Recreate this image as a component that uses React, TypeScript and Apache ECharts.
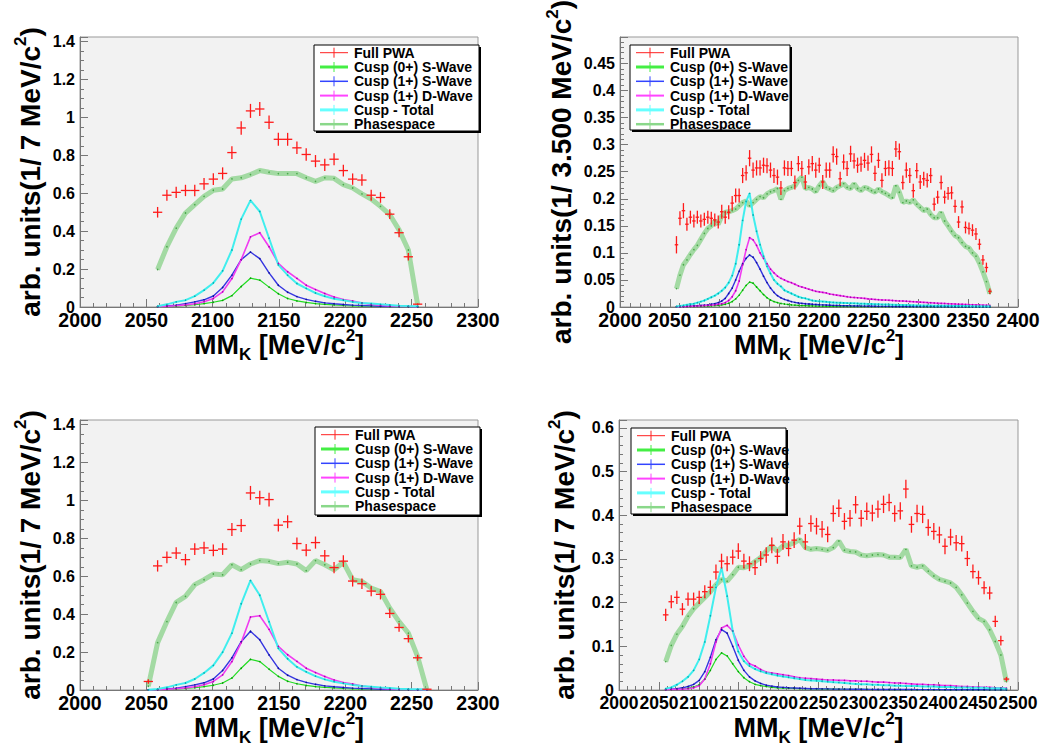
import React, { useEffect, useRef } from 'react';
import * as echarts from 'echarts';

const FONT = '"Liberation Sans", Arial, Helvetica, sans-serif';

const legendLabels = ['Full PWA', 'Cusp (0+) S-Wave', 'Cusp (1+) S-Wave', 'Cusp (1+) D-Wave', 'Cusp - Total', 'Phasespace'];
const xTitle = 'MM{sub|K} [MeV/c{sup|2}]';
const yTitle7 = 'arb. units(1/ 7 MeV/c{sup|2})';
const yTitle35 = 'arb. units(1/ 3.500 MeV/c{sup|2})';

// ---------- Panel A (top-left), 7 MeV bins ----------
const binA = { start: 2058.5, width: 7 };
const redA = [0.50, 0.59, 0.605, 0.615, 0.615, 0.65, 0.675, 0.705, 0.815, 0.945, 1.035, 1.045, 0.975, 0.885, 0.885, 0.84, 0.805, 0.77, 0.75, 0.78, 0.72, 0.675, 0.67, 0.59, 0.578, 0.49, 0.392, 0.265, 0.015];
const errA = [0.028, 0.029, 0.03, 0.03, 0.03, 0.031, 0.031, 0.032, 0.034, 0.036, 0.037, 0.037, 0.036, 0.034, 0.034, 0.033, 0.033, 0.032, 0.032, 0.032, 0.031, 0.03, 0.03, 0.029, 0.028, 0.026, 0.024, 0.02, 0.004];
const phaseA = [0.198, 0.318, 0.416, 0.496, 0.54, 0.584, 0.616, 0.623, 0.676, 0.682, 0.699, 0.72, 0.711, 0.704, 0.704, 0.704, 0.682, 0.663, 0.682, 0.679, 0.646, 0.628, 0.597, 0.57, 0.531, 0.487, 0.407, 0.301, 0.012];
const cyanA = [0.004, 0.014, 0.027, 0.036, 0.057, 0.089, 0.127, 0.191, 0.301, 0.464, 0.563, 0.504, 0.363, 0.222, 0.168, 0.124, 0.098, 0.074, 0.057, 0.044, 0.036, 0.027, 0.021, 0.018, 0.014, 0.011, 0.007, 0.005, 0.004];
const magentaA = [0.002, 0.004, 0.007, 0.011, 0.017, 0.028, 0.045, 0.08, 0.15, 0.25, 0.37, 0.392, 0.318, 0.23, 0.186, 0.151, 0.115, 0.092, 0.071, 0.053, 0.039, 0.032, 0.021, 0.014, 0.009, 0.005, 0.004, 0.003, 0.002];
const blueA = [0.002, 0.005, 0.01, 0.018, 0.027, 0.038, 0.058, 0.103, 0.168, 0.25, 0.29, 0.255, 0.18, 0.115, 0.078, 0.055, 0.04, 0.03, 0.022, 0.017, 0.013, 0.01, 0.008, 0.006, 0.004, 0.003, 0.002, 0.002, 0.001];
const greenA = [0.001, 0.003, 0.005, 0.008, 0.012, 0.018, 0.025, 0.035, 0.06, 0.108, 0.152, 0.142, 0.105, 0.07, 0.045, 0.032, 0.024, 0.018, 0.014, 0.011, 0.008, 0.006, 0.005, 0.004, 0.003, 0.002, 0.002, 0.001, 0.001];

// ---------- Panel B (top-right), 3.5 MeV bins ----------
const binB = { start: 2056.75, width: 3.5 };
const redB = [0.115, 0.164, 0.178, 0.153, 0.166, 0.159, 0.166, 0.159, 0.162, 0.166,
  0.164, 0.161, 0.157, 0.176, 0.166, 0.175, 0.192, 0.206, 0.206, 0.243,
  0.248, 0.275, 0.253, 0.257, 0.257, 0.262, 0.261, 0.253, 0.243, 0.24,
  0.22, 0.257, 0.256, 0.256, 0.23, 0.265, 0.256, 0.231, 0.259, 0.265,
  0.253, 0.262, 0.231, 0.253, 0.253, 0.282, 0.278, 0.237, 0.268, 0.256,
  0.283, 0.27, 0.262, 0.264, 0.271, 0.266, 0.282, 0.247, 0.271, 0.234,
  0.256, 0.257, 0.256, 0.292, 0.287, 0.23, 0.253, 0.243, 0.215, 0.252,
  0.231, 0.237, 0.234, 0.243, 0.19, 0.203, 0.23, 0.203, 0.21, 0.211,
  0.186, 0.157, 0.185, 0.147, 0.145, 0.142, 0.135, 0.116, 0.087, 0.073, 0.029];
const errB = [0.016, 0.013, 0.014, 0.012, 0.012, 0.012, 0.012, 0.012, 0.012, 0.012,
  0.012, 0.012, 0.012, 0.013, 0.012, 0.013, 0.013, 0.013, 0.013, 0.014,
  0.014, 0.015, 0.014, 0.014, 0.014, 0.014, 0.014, 0.014, 0.014, 0.014,
  0.013, 0.014, 0.014, 0.014, 0.013, 0.014, 0.014, 0.013, 0.014, 0.014,
  0.014, 0.014, 0.013, 0.014, 0.014, 0.015, 0.015, 0.013, 0.014, 0.014,
  0.015, 0.014, 0.014, 0.014, 0.014, 0.014, 0.015, 0.014, 0.014, 0.013,
  0.014, 0.014, 0.014, 0.015, 0.015, 0.013, 0.014, 0.014, 0.013, 0.014,
  0.013, 0.013, 0.013, 0.014, 0.012, 0.012, 0.013, 0.012, 0.012, 0.012,
  0.012, 0.011, 0.012, 0.011, 0.011, 0.011, 0.011, 0.01, 0.009, 0.009, 0.005];
const phaseB = [0.034, 0.059, 0.078, 0.087, 0.097, 0.106, 0.114, 0.125, 0.136, 0.145,
  0.15, 0.159, 0.153, 0.168, 0.175, 0.176, 0.178, 0.181, 0.187, 0.193,
  0.196, 0.187, 0.193, 0.199, 0.204, 0.202, 0.209, 0.213, 0.215, 0.219,
  0.199, 0.215, 0.219, 0.221, 0.224, 0.234, 0.24, 0.219, 0.221, 0.218,
  0.213, 0.224, 0.232, 0.221, 0.218, 0.215, 0.221, 0.224, 0.228, 0.221,
  0.219, 0.228, 0.219, 0.215, 0.221, 0.219, 0.215, 0.212, 0.218, 0.213,
  0.21, 0.206, 0.202, 0.224, 0.212, 0.193, 0.196, 0.193, 0.198, 0.19,
  0.184, 0.178, 0.181, 0.171, 0.165, 0.165, 0.175, 0.159, 0.15, 0.14,
  0.132, 0.128, 0.119, 0.112, 0.109, 0.1, 0.094, 0.081, 0.065, 0.047, 0.025];
const cyanB = [0.001, 0.002, 0.003, 0.004, 0.005, 0.006, 0.008, 0.01, 0.012, 0.015,
  0.018, 0.021, 0.025, 0.03, 0.036, 0.045, 0.058, 0.08, 0.115, 0.16,
  0.195, 0.21, 0.17, 0.14, 0.115, 0.094, 0.075, 0.062, 0.05, 0.043,
  0.038, 0.031, 0.028, 0.025, 0.022, 0.019, 0.017, 0.016, 0.014, 0.012,
  0.011, 0.0105, 0.01, 0.0095, 0.009, 0.0085, 0.008, 0.0078, 0.0075, 0.0072,
  0.007, 0.0068, 0.0065, 0.0062, 0.006, 0.0057, 0.0055, 0.0052, 0.005, 0.0048,
  0.0046, 0.0044, 0.0042, 0.004, 0.0038, 0.0036, 0.0035, 0.0033, 0.0032, 0.003,
  0.0029, 0.0028, 0.0027, 0.0026, 0.0025, 0.0024, 0.0023, 0.0022, 0.0021, 0.002,
  0.002, 0.0019, 0.0018, 0.0018, 0.0017, 0.0016, 0.0016, 0.0015, 0.0014, 0.0014, 0.0013];
const magentaB = [0.0003, 0.0005, 0.0007, 0.001, 0.0012, 0.0015, 0.0018, 0.002, 0.0025, 0.003,
  0.0035, 0.004, 0.005, 0.006, 0.008, 0.012, 0.019, 0.03, 0.048, 0.078,
  0.106, 0.128, 0.124, 0.114, 0.1, 0.09, 0.08, 0.07, 0.063, 0.057,
  0.053, 0.05, 0.047, 0.045, 0.042, 0.039, 0.037, 0.035, 0.033, 0.031,
  0.029, 0.028, 0.027, 0.026, 0.024, 0.023, 0.022, 0.021, 0.02, 0.019,
  0.018, 0.0175, 0.017, 0.0165, 0.016, 0.015, 0.0145, 0.014, 0.0135, 0.013,
  0.0128, 0.0124, 0.012, 0.0116, 0.0112, 0.011, 0.0106, 0.0102, 0.0098, 0.0094,
  0.009, 0.0086, 0.0082, 0.0078, 0.0074, 0.007, 0.0067, 0.0064, 0.0061, 0.0058,
  0.0055, 0.0052, 0.005, 0.0047, 0.0044, 0.0042, 0.004, 0.0037, 0.0035, 0.0032, 0.003];
const blueB = [0.0005, 0.0008, 0.001, 0.0013, 0.0016, 0.002, 0.0025, 0.003, 0.0035, 0.004,
  0.005, 0.006, 0.008, 0.011, 0.016, 0.025, 0.035, 0.05, 0.066, 0.08,
  0.09, 0.096, 0.092, 0.082, 0.07, 0.057, 0.045, 0.035, 0.027, 0.021,
  0.017, 0.014, 0.012, 0.01, 0.0085, 0.0075, 0.0068, 0.006, 0.0055, 0.005,
  0.0046, 0.0042, 0.0039, 0.0036, 0.0033, 0.003, 0.0028, 0.0026, 0.0024, 0.0022,
  0.002, 0.0019, 0.0018, 0.0017, 0.0016, 0.0015, 0.0014, 0.0013, 0.0012, 0.0012,
  0.0011, 0.0011, 0.001, 0.001, 0.001, 0.0009, 0.0009, 0.0009, 0.0008, 0.0008,
  0.0008, 0.0007, 0.0007, 0.0007, 0.0006, 0.0006, 0.0006, 0.0006, 0.0005, 0.0005,
  0.0005, 0.0005, 0.0004, 0.0004, 0.0004, 0.0004, 0.0004, 0.0003, 0.0003, 0.0003, 0.0003];
const greenB = [0.0003, 0.0004, 0.0005, 0.0006, 0.0008, 0.001, 0.0012, 0.0014, 0.0016, 0.0019,
  0.0022, 0.0026, 0.003, 0.004, 0.005, 0.007, 0.01, 0.015, 0.022, 0.031,
  0.04, 0.046, 0.044, 0.037, 0.03, 0.023, 0.017, 0.013, 0.01, 0.008,
  0.0065, 0.0055, 0.0047, 0.004, 0.0035, 0.003, 0.0027, 0.0024, 0.0021, 0.0019,
  0.0017, 0.0015, 0.0014, 0.0013, 0.0012, 0.0011, 0.001, 0.001, 0.0009, 0.0009,
  0.0008, 0.0008, 0.0008, 0.0008, 0.0008, 0.0007, 0.0007, 0.0007, 0.0007, 0.0007,
  0.0006, 0.0006, 0.0006, 0.0006, 0.0006, 0.0005, 0.0005, 0.0005, 0.0005, 0.0005,
  0.0005, 0.0004, 0.0004, 0.0004, 0.0004, 0.0004, 0.0004, 0.0003, 0.0003, 0.0003,
  0.0003, 0.0003, 0.0003, 0.0003, 0.0002, 0.0002, 0.0002, 0.0002, 0.0002, 0.0002, 0.0002];

// ---------- Panel C (bottom-left), 7 MeV bins ----------
const binC = { start: 2051.5, width: 7 };
const redC = [0.045, 0.655, 0.70, 0.723, 0.688, 0.744, 0.75, 0.737, 0.744, 0.847, 0.868, 1.04, 1.015, 1.005, 0.87, 0.888, 0.773, 0.738, 0.778, 0.708, 0.646, 0.68, 0.575, 0.561, 0.522, 0.505, 0.404, 0.33, 0.271, 0.17, 0.004];
const errC = [0.012, 0.03, 0.031, 0.031, 0.03, 0.031, 0.032, 0.031, 0.031, 0.034, 0.034, 0.037, 0.037, 0.036, 0.034, 0.034, 0.032, 0.032, 0.032, 0.031, 0.03, 0.031, 0.029, 0.028, 0.027, 0.027, 0.024, 0.022, 0.02, 0.016, 0.003];
const phaseC = [0.02, 0.25, 0.361, 0.462, 0.494, 0.556, 0.582, 0.612, 0.608, 0.661, 0.635, 0.665, 0.683, 0.679, 0.667, 0.674, 0.665, 0.63, 0.683, 0.661, 0.635, 0.674, 0.582, 0.573, 0.538, 0.52, 0.432, 0.361, 0.3, 0.176, 0.0];
const cyanC = [0.001, 0.005, 0.014, 0.027, 0.037, 0.058, 0.09, 0.13, 0.2, 0.3, 0.455, 0.578, 0.5, 0.36, 0.22, 0.165, 0.122, 0.096, 0.073, 0.056, 0.044, 0.035, 0.027, 0.021, 0.017, 0.013, 0.01, 0.007, 0.005, 0.004, 0.003];
const magentaC = [0.001, 0.002, 0.004, 0.007, 0.011, 0.017, 0.028, 0.045, 0.08, 0.15, 0.25, 0.385, 0.392, 0.32, 0.23, 0.186, 0.151, 0.115, 0.092, 0.071, 0.053, 0.039, 0.032, 0.021, 0.014, 0.009, 0.005, 0.004, 0.003, 0.002, 0.001];
const blueC = [0.001, 0.002, 0.005, 0.01, 0.018, 0.027, 0.038, 0.058, 0.103, 0.17, 0.255, 0.31, 0.265, 0.185, 0.115, 0.078, 0.055, 0.04, 0.03, 0.022, 0.017, 0.013, 0.01, 0.008, 0.006, 0.004, 0.003, 0.002, 0.002, 0.001, 0.001];
const greenC = [0.0005, 0.001, 0.003, 0.005, 0.008, 0.012, 0.018, 0.025, 0.037, 0.063, 0.115, 0.162, 0.15, 0.11, 0.072, 0.046, 0.033, 0.024, 0.018, 0.014, 0.011, 0.008, 0.006, 0.005, 0.004, 0.003, 0.002, 0.002, 0.001, 0.001, 0.001];

// ---------- Panel D (bottom-right), 7 MeV bins ----------
const binD = { start: 2058.5, width: 7 };
const redD = [0.172, 0.202, 0.212, 0.185, 0.208, 0.208, 0.212, 0.225, 0.235, 0.27,
  0.295, 0.289, 0.304, 0.318, 0.295, 0.289, 0.28, 0.301, 0.309, 0.331,
  0.306, 0.339, 0.324, 0.343, 0.375, 0.339, 0.381, 0.375, 0.368, 0.356,
  0.404, 0.416, 0.386, 0.393, 0.424, 0.393, 0.409, 0.405, 0.414, 0.425,
  0.429, 0.404, 0.41, 0.46, 0.379, 0.404, 0.402, 0.372, 0.363, 0.355,
  0.329, 0.35, 0.337, 0.335, 0.301, 0.271, 0.257, 0.234, 0.222, 0.157,
  0.113, 0.025];
const errD = [0.014, 0.015, 0.015, 0.014, 0.015, 0.015, 0.015, 0.015, 0.016, 0.017,
  0.017, 0.017, 0.017, 0.018, 0.017, 0.017, 0.017, 0.017, 0.018, 0.018,
  0.017, 0.018, 0.018, 0.018, 0.019, 0.018, 0.019, 0.019, 0.019, 0.018,
  0.019, 0.02, 0.019, 0.019, 0.02, 0.019, 0.02, 0.019, 0.02, 0.02,
  0.02, 0.019, 0.02, 0.021, 0.019, 0.02, 0.02, 0.019, 0.019, 0.019,
  0.018, 0.019, 0.018, 0.018, 0.017, 0.016, 0.016, 0.015, 0.015, 0.013,
  0.011, 0.005];
const phaseD = [0.065, 0.102, 0.128, 0.146, 0.169, 0.186, 0.199, 0.212, 0.225, 0.241,
  0.253, 0.249, 0.264, 0.281, 0.28, 0.284, 0.294, 0.303, 0.318, 0.33,
  0.318, 0.33, 0.332, 0.337, 0.345, 0.326, 0.322, 0.324, 0.322, 0.32,
  0.326, 0.341, 0.32, 0.317, 0.316, 0.309, 0.307, 0.309, 0.31, 0.309,
  0.304, 0.304, 0.303, 0.322, 0.284, 0.281, 0.284, 0.272, 0.261, 0.253,
  0.249, 0.245, 0.235, 0.218, 0.199, 0.18, 0.164, 0.157, 0.138, 0.111,
  0.08, 0.019];
const cyanD = [0.003, 0.006, 0.012, 0.02, 0.03, 0.045, 0.07, 0.11, 0.17, 0.235,
  0.28, 0.215, 0.135, 0.088, 0.066, 0.055, 0.048, 0.043, 0.039, 0.036,
  0.033, 0.031, 0.029, 0.027, 0.025, 0.023, 0.022, 0.021, 0.02, 0.019,
  0.018, 0.017, 0.016, 0.015, 0.014, 0.013, 0.013, 0.012, 0.012, 0.011,
  0.011, 0.01, 0.01, 0.009, 0.009, 0.009, 0.008, 0.008, 0.008, 0.007,
  0.007, 0.007, 0.006, 0.006, 0.006, 0.005, 0.005, 0.005, 0.004, 0.004,
  0.004, 0.003];
const magentaD = [0.0005, 0.001, 0.0015, 0.002, 0.003, 0.005, 0.01, 0.025, 0.06, 0.11,
  0.142, 0.148, 0.135, 0.103, 0.077, 0.06, 0.055, 0.047, 0.041, 0.039,
  0.037, 0.035, 0.033, 0.03, 0.028, 0.027, 0.026, 0.025, 0.024, 0.023,
  0.023, 0.022, 0.022, 0.021, 0.021, 0.02, 0.02, 0.019, 0.018, 0.018,
  0.017, 0.016, 0.016, 0.015, 0.014, 0.013, 0.013, 0.012, 0.012, 0.011,
  0.01, 0.01, 0.009, 0.008, 0.008, 0.007, 0.007, 0.006, 0.006, 0.005,
  0.005, 0.004];
const blueD = [0.001, 0.002, 0.003, 0.005, 0.008, 0.013, 0.022, 0.042, 0.075, 0.115,
  0.138, 0.13, 0.1, 0.068, 0.045, 0.03, 0.021, 0.015, 0.011, 0.009,
  0.007, 0.006, 0.005, 0.0045, 0.004, 0.0035, 0.003, 0.003, 0.0025, 0.0025,
  0.002, 0.002, 0.002, 0.0018, 0.0017, 0.0016, 0.0015, 0.0014, 0.0013, 0.0012,
  0.0012, 0.0011, 0.001, 0.001, 0.001, 0.0009, 0.0009, 0.0008, 0.0008, 0.0008,
  0.0007, 0.0007, 0.0006, 0.0006, 0.0006, 0.0005, 0.0005, 0.0005, 0.0004, 0.0004,
  0.0003, 0.0003];
const greenD = [0.0005, 0.001, 0.0015, 0.0025, 0.004, 0.007, 0.012, 0.025, 0.045, 0.07,
  0.085, 0.078, 0.06, 0.042, 0.028, 0.019, 0.013, 0.01, 0.008, 0.006,
  0.005, 0.0045, 0.004, 0.0035, 0.003, 0.003, 0.0025, 0.0025, 0.002, 0.002,
  0.002, 0.0018, 0.0017, 0.0016, 0.0015, 0.0014, 0.0013, 0.0012, 0.0012, 0.0011,
  0.001, 0.001, 0.001, 0.0009, 0.0009, 0.0008, 0.0008, 0.0008, 0.0007, 0.0007,
  0.0006, 0.0006, 0.0006, 0.0005, 0.0005, 0.0005, 0.0004, 0.0004, 0.0004, 0.0003,
  0.0003, 0.0003];

// ---------- helpers ----------
const binCenters = (b: { start: number; width: number }, n: number) =>
  Array.from({ length: n }, (_, i) => b.start + i * b.width);

const crossItem = (params: any, api: any) => {
  const x = api.value(0), y = api.value(1), e = api.value(2), h = api.value(3);
  const p = api.coord([x, y]);
  const pl = api.coord([x - h, y]);
  const pr = api.coord([x + h, y]);
  const pt = api.coord([x, y + e]);
  const pb = api.coord([x, y - e]);
  return {
    type: 'group',
    children: [
      { type: 'line', shape: { x1: pl[0], y1: p[1], x2: pr[0], y2: p[1] }, style: { stroke: '#ff1a1a', lineWidth: 1.3 } },
      { type: 'line', shape: { x1: p[0], y1: pt[1], x2: p[0], y2: pb[1] }, style: { stroke: '#ff1a1a', lineWidth: 1.3 } },
    ],
  };
};

function panelSeries(gi: number, bin: { start: number; width: number }, red: number[], err: number[],
  phase: number[], green: number[], blue: number[], magenta: number[], cyan: number[]) {
  const xs = binCenters(bin, red.length);
  const pair = (arr: number[]) => arr.slice(0, xs.length).map((v, i) => [xs[i], v]);
  const lineS = (name: string, arr: number[], color: string, width: number, dot: string, z: number) => ({
    type: 'line', name, xAxisIndex: gi, yAxisIndex: gi, data: pair(arr),
    lineStyle: { color, width }, itemStyle: { color: dot },
    symbol: 'circle', symbolSize: 1.6, showSymbol: true, silent: true, z, clip: true,
    emphasis: { disabled: true },
  });
  return [
    lineS('Phasespace', phase, 'rgba(120,205,120,0.65)', 5, '#4aa84a', 2),
    lineS('Cusp (0+) S-Wave', green, '#22dd22', 1.2, '#0a9a0a', 3),
    lineS('Cusp (1+) S-Wave', blue, '#3535e0', 1.4, '#10109a', 3),
    lineS('Cusp (1+) D-Wave', magenta, '#f03cf0', 1.6, '#b000b0', 3),
    lineS('Cusp - Total', cyan, '#40eeee', 2, '#00b0b0', 3),
    {
      type: 'custom', name: 'Full PWA', xAxisIndex: gi, yAxisIndex: gi,
      data: red.map((v, i) => [xs[i], v, err[i] ?? 0, bin.width / 2]),
      renderItem: crossItem, encode: { x: 0, y: 1 }, clip: true, silent: true, z: 5,
    },
  ];
}

const richTitle = {
  sub: { fontSize: 17, fontWeight: 'bold', fontFamily: FONT, color: '#000', verticalAlign: 'bottom', lineHeight: 20 },
  sup: { fontSize: 17, fontWeight: 'bold', fontFamily: FONT, color: '#000', verticalAlign: 'top', lineHeight: 26 },
};
const titleStyle = { fontSize: 27, fontWeight: 'bold', fontFamily: FONT, color: '#000', lineHeight: 36, rich: richTitle };
const yTitleStyle = { ...titleStyle, fontSize: 28 };

const AX = '#777';
function xAxisCfg(gi: number, max: number, labelSize: number) {
  return {
    type: 'value', gridIndex: gi, min: 2000, max, interval: 50,
    axisLine: { show: true, onZero: false, lineStyle: { color: AX, width: 1 } },
    axisTick: { show: true, inside: true, length: 8, lineStyle: { color: AX } },
    minorTick: { show: true, splitNumber: 5, length: 4, lineStyle: { color: AX } },
    splitLine: { show: false }, minorSplitLine: { show: false },
    axisLabel: {
      color: '#000', fontSize: labelSize, fontWeight: 'bold', fontFamily: FONT, margin: 4, lineHeight: 17,
      showMinLabel: true, showMaxLabel: true, hideOverlap: false,
      formatter: (v: number) => String(Math.round(v)),
    },
    name: xTitle, nameLocation: 'middle', nameGap: 20, nameMoveOverlap: false, nameTextStyle: titleStyle,
  };
}
function yAxisCfg(gi: number, max: number, interval: number, minorSplit: number, title: string, gap: number) {
  return {
    type: 'value', gridIndex: gi, min: 0, max, interval,
    axisLine: { show: true, onZero: false, lineStyle: { color: AX, width: 1 } },
    axisTick: { show: true, inside: true, length: 8, lineStyle: { color: AX } },
    minorTick: { show: true, splitNumber: minorSplit, length: 4, lineStyle: { color: AX } },
    splitLine: { show: false }, minorSplitLine: { show: false },
    axisLabel: {
      color: '#000', fontSize: 16, fontWeight: 'bold', fontFamily: FONT, margin: 5, lineHeight: 12, showMaxLabel: false,
      formatter: (v: number) => String(parseFloat(v.toFixed(3))),
    },
    name: title, nameLocation: 'middle', nameGap: gap, nameTextStyle: yTitleStyle,
  };
}

const gridBase = { show: true, backgroundColor: '#f2f2f2', borderColor: '#999', borderWidth: 1, containLabel: false, outerBoundsMode: 'none' };

const legendBoxes = [
  { x: 314, y: 45, w: 165, h: 86 },
  { x: 630, y: 45, w: 160, h: 85 },
  { x: 315, y: 427, w: 165, h: 88 },
  { x: 631, y: 428, w: 155, h: 86 },
];
const legendLook = [
  { color: '#ff2020', width: 1 },
  { color: '#44ee44', width: 3 },
  { color: '#3344ff', width: 1.5 },
  { color: '#ff44ff', width: 2 },
  { color: '#66ffff', width: 3 },
  { color: '#8ad88a', width: 2.5 },
];
function legendGraphic(b: { x: number; y: number; w: number; h: number }) {
  const children: any[] = [
    { type: 'rect', shape: { x: b.x + 2, y: b.y + 2, width: b.w, height: b.h }, style: { fill: '#000' } },
    { type: 'rect', shape: { x: b.x, y: b.y, width: b.w, height: b.h }, style: { fill: '#fff', stroke: '#000', lineWidth: 1 } },
  ];
  legendLabels.forEach((label, i) => {
    const cy = b.y + 7.7 + i * 14.3;
    const s = legendLook[i];
    children.push({ type: 'line', shape: { x1: b.x + 6, y1: cy, x2: b.x + 34, y2: cy }, style: { stroke: s.color, lineWidth: s.width } });
    children.push({ type: 'line', shape: { x1: b.x + 20, y1: cy - 5, x2: b.x + 20, y2: cy + 5 }, style: { stroke: s.color, lineWidth: 1 } });
    children.push({
      type: 'text', x: b.x + 40, y: cy,
      style: { text: label, font: `bold 14px ${FONT}`, fill: '#000', align: 'left', verticalAlign: 'middle', textAlign: 'left', textVerticalAlign: 'middle' },
    });
  });
  return { type: 'group', children, z: 100 };
}

const option: any = {
  animation: false,
  backgroundColor: '#ffffff',
  grid: [
    { ...gridBase, left: 80, top: 37, width: 398, height: 270 },
    { ...gridBase, left: 620, top: 37, width: 398, height: 270 },
    { ...gridBase, left: 80, top: 420, width: 398, height: 270 },
    { ...gridBase, left: 619, top: 420, width: 399, height: 270 },
  ],
  xAxis: [xAxisCfg(0, 2300, 19.5), xAxisCfg(1, 2400, 19.5), xAxisCfg(2, 2300, 19.5), xAxisCfg(3, 2500, 17.5)],
  yAxis: [
    yAxisCfg(0, 1.425, 0.2, 4, yTitle7, 32),
    yAxisCfg(1, 0.499, 0.05, 5, yTitle35, 37),
    yAxisCfg(2, 1.425, 0.2, 4, yTitle7, 32),
    yAxisCfg(3, 0.618, 0.1, 5, yTitle7, 37),
  ],
  series: [
    ...panelSeries(0, binA, redA, errA, phaseA, greenA, blueA, magentaA, cyanA),
    ...panelSeries(1, binB, redB, errB, phaseB, greenB, blueB, magentaB, cyanB),
    ...panelSeries(2, binC, redC, errC, phaseC, greenC, blueC, magentaC, cyanC),
    ...panelSeries(3, binD, redD, errD, phaseD, greenD, blueD, magentaD, cyanD),
  ],
  graphic: legendBoxes.map(legendGraphic),
};

export default function App() {
  const ref = useRef<HTMLDivElement>(null);
  useEffect(() => {
    if (!ref.current) return;
    const chart = echarts.init(ref.current, undefined, { renderer: 'svg' });
    chart.setOption(option);
    return () => chart.dispose();
  }, []);
  return <div ref={ref} style={{ position: 'absolute', left: 0, top: 0, width: 1057, height: 749, background: '#fff' }} />;
}
